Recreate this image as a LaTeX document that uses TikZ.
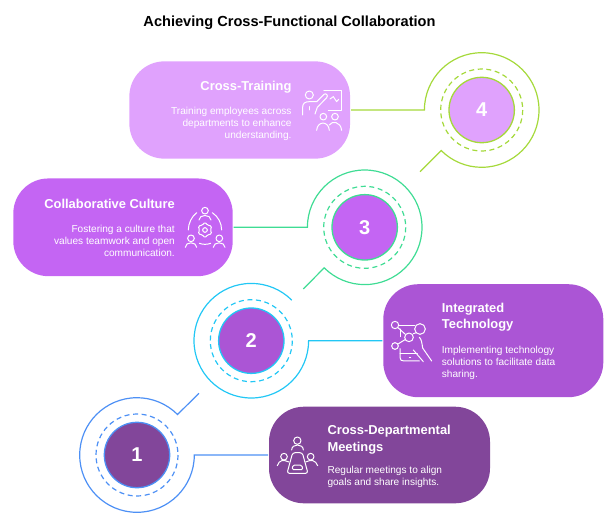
\documentclass[tikz,border=0pt]{standalone}
\usepackage{fontspec}
\setmainfont{Liberation Sans}
\definecolor{fillone}{HTML}{82469A}
\definecolor{filltwo}{HTML}{AB55D5}
\definecolor{fillthree}{HTML}{C465F3}
\definecolor{fillfour}{HTML}{E0A2FD}
\definecolor{ringone}{HTML}{4D90F5}
\definecolor{ringtwo}{HTML}{22C7F5}
\definecolor{ringthree}{HTML}{3FDC94}
\definecolor{ringfour}{HTML}{A5D93A}
\tikzset{
  disc/.style={circle,minimum size=65.4pt,inner sep=0pt,line width=1.3pt,text=white,
    font=\fontsize{20}{20}\selectfont\bfseries},
  panel/.style={rectangle,rounded corners=35pt,inner sep=0pt,outer sep=1pt},
  ring/.style={line width=1.2pt},
  dashring/.style={line width=1.2pt,dash pattern=on 5pt off 3.6pt},
  heading/.style={inner sep=0pt,text=white,font=\fontsize{12.9}{16.3}\selectfont\bfseries},
  body/.style={inner sep=0pt,text=white,font=\fontsize{10.1}{12.3}\selectfont},
  icon/.style={x=0.3333pt,y=-0.3333pt,white,line width=1pt,line cap=round,line join=round}
}
\begin{document}
\begin{tikzpicture}[x=1pt,y=-1pt]
  \useasboundingbox (0,0) rectangle (615,525);
  \node[inner sep=0pt,font=\fontsize{14.6}{16}\selectfont\bfseries] (title) at (289.5,22.5) {Achieving Cross-Functional Collaboration};

  \node[panel,fill=fillfour,minimum width=220.7pt,minimum height=97.3pt] (box4) at (239.7,110) {};
  \node[panel,fill=fillthree,minimum width=219.4pt,minimum height=97.7pt] (box3) at (123,227.3) {};
  \node[panel,fill=filltwo,minimum width=220pt,minimum height=113pt] (box2) at (493.3,340.7) {};
  \node[panel,fill=fillone,minimum width=221pt,minimum height=96.6pt] (box1) at (379.5,455) {};

  \node[disc,fill=fillfour,draw=ringfour] (disc4) at (481.7,110) {4};
  \node[disc,fill=fillthree,draw=ringthree] (disc3) at (364.7,227.3) {3};
  \node[disc,fill=filltwo,draw=ringtwo] (disc2) at (251.3,340.7) {2};
  \node[disc,fill=fillone,draw=ringone] (disc1) at (137,455) {1};

  \draw[dashring,ringfour] (disc4) circle[radius=41];
  \draw[dashring,ringthree] (disc3) circle[radius=41];
  \draw[dashring,ringtwo] (disc2) circle[radius=41];
  \draw[dashring,ringone] (disc1) circle[radius=41];

  \coordinate (open4) at (424.4,110);
  \coordinate (open3) at (307.4,227.3);
  \coordinate (open2) at (308.6,340.7);
  \coordinate (open1) at (194.3,455);
  \coordinate (tail4) at (420,171.7);
  \coordinate (tail3) at (303.3,289);
  \coordinate (tail1) at (199,393.3);

  \draw[ring,ringfour] (box4.east) -- (open4) arc[start angle=180,end angle=495,radius=57.3] -- (tail4);
  \draw[ring,ringthree] (box3.east) -- (open3) arc[start angle=180,end angle=495,radius=57.3] -- (tail3);
  \draw[ring,ringtwo] (box2.west) -- (open2) arc[start angle=0,end angle=315,radius=57.3];
  \draw[ring,ringone] (box1.west) -- (open1) arc[start angle=0,end angle=315,radius=57.3] -- (tail1);

  \node[heading,anchor=east] (head4) at (291.7,87) {Cross-Training};
  \node[body,anchor=east,align=right] (text4) at (291.7,124) {Training employees across\\departments to enhance\\understanding.};
  \node[heading,anchor=east] (head3) at (175,203.7) {Collaborative Culture};
  \node[body,anchor=east,align=right] (text3) at (175,240.7) {Fostering a culture that\\values teamwork and open\\communication.};
  \node[heading,anchor=west,align=left] (head2) at (441.7,317.5) {Integrated\\Technology};
  \node[body,anchor=west,align=left] (text2) at (441.7,362.7) {Implementing technology\\solutions to facilitate data\\sharing.};
  \node[heading,anchor=west,align=left] (head1) at (327.3,439.7) {Cross-Departmental\\Meetings};
  \node[body,anchor=west,align=left] (text1) at (327.3,476.7) {Regular meetings to align\\goals and share insights.};

  \begin{scope}[shift={(120,50)},icon]
    \draw (568,135) circle[radius=12];
    \draw (548,195) -- (548,172) .. controls (548,160) and (555,155) .. (568,155) -- (590,155) -- (612,133) .. controls (618,128) and (626,136) .. (620,143) -- (592,172) -- (585,192);
    \draw (570,170) -- (570,180);
    \draw (612,122) -- (665,122) -- (665,183) -- (625,183);
    \draw (630,147) -- (640,140) -- (650,155) -- (656,148);
    \draw (610,200) circle[radius=10];
    \draw (645,200) circle[radius=10];
    \draw (590,241) .. controls (592,212) and (626,212) .. (628,241);
    \draw (628,225) .. controls (636,212) and (662,214) .. (665,241);
  \end{scope}
  \begin{scope}[shift={(5,170)},icon]
    \draw (600,122) circle[radius=10];
    \draw (582,150) .. controls (582,132) and (618,132) .. (618,150);
    \draw (558,205) circle[radius=10];
    \draw (541,232) .. controls (541,214) and (575,214) .. (575,232);
    \draw (643,205) circle[radius=10];
    \draw (625,232) .. controls (625,214) and (660,214) .. (660,232);
    \draw (575,128) .. controls (560,140) and (550,160) .. (550,180);
    \draw (622,128) .. controls (640,140) and (650,160) .. (650,180);
    \draw (583,220) .. controls (594,224) and (606,224) .. (617,220);
    \draw (600,180) circle[radius=7];
    \draw[rounded corners=1.5pt,shift={(600,180)}] (30:24) -- (60:16) -- (90:24) -- (120:16) -- (150:24) -- (180:16) -- (210:24) -- (240:16) -- (270:24) -- (300:16) -- (330:24) -- (0:16) -- cycle;
  \end{scope}
  \begin{scope}[shift={(380,280)},icon]
    \draw (45,135) circle[radius=11];
    \draw (120,147) circle[radius=16];
    \draw (87,172) circle[radius=13];
    \draw (45,198) circle[radius=10];
    \draw (57,137) -- (104,137);
    \draw (54,143) -- (76,163);
    \draw (100,161) -- (109,158);
    \draw (54,192) -- (75,179);
    \draw (61,147) -- (61,170);
    \draw (60,206) -- (60,232) .. controls (60,240) and (64,243) .. (72,243) -- (118,243);
    \draw (60,220) -- (112,220);
    \draw (88,232) -- (92,232);
    \draw (118,172) .. controls (124,176) and (126,190) .. (128,204) -- (155,243);
    \draw (100,210) -- (130,245);
  \end{scope}
  \begin{scope}[shift={(265,400)},icon]
    \draw (97,122) circle[radius=11];
    \draw (80,150) .. controls (80,130) and (115,130) .. (115,150);
    \draw (57,170) circle[radius=10];
    \draw (37,197) .. controls (42,180) and (55,178) .. (72,186);
    \draw (137,170) circle[radius=10];
    \draw (122,186) .. controls (138,178) and (152,180) .. (158,197);
    \draw[rounded corners=2.5pt] (83,158) -- (112,158) -- (129,220) -- (66,220) -- cycle;
    \draw[rounded corners=1.5pt] (84,195) -- (110,195) -- (114,209) -- (81,209) -- cycle;
  \end{scope}
\end{tikzpicture}
\end{document}
